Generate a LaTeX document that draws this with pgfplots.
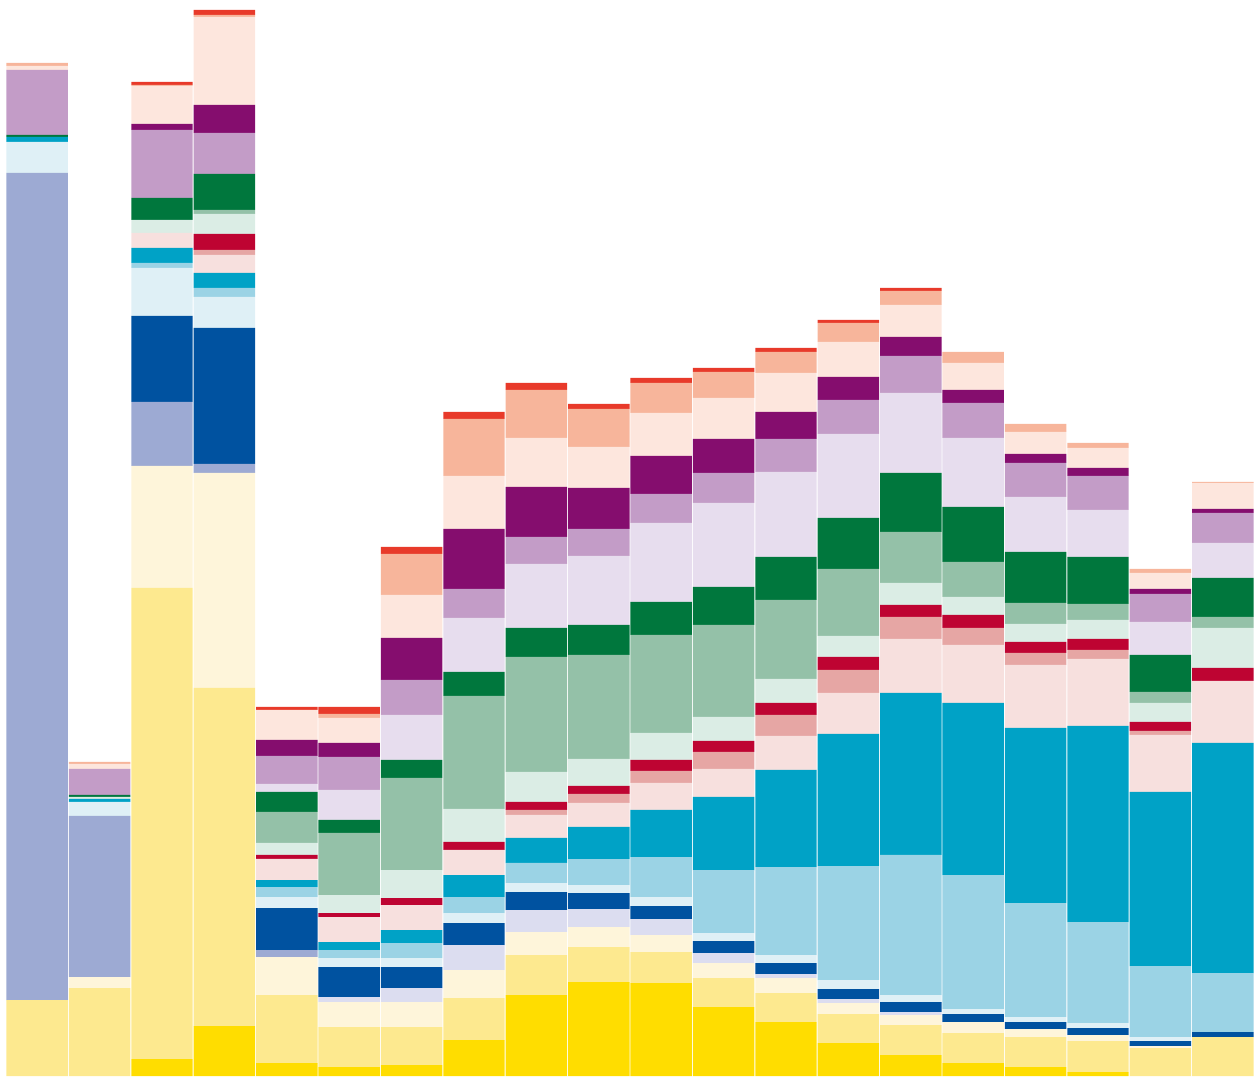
\documentclass[border=0pt]{standalone}
\usepackage{pgfplots}
\pgfplotsset{compat=1.18}
\usepackage{pgfplotstable}

% segment colours, bottom of the stack to top
\definecolor{c1}{HTML}{FFDD00}
\definecolor{c2}{HTML}{FDE98F}
\definecolor{c3}{HTML}{FEF5DA}
\definecolor{c4}{HTML}{9DAAD3}
\definecolor{c5}{HTML}{DCDDF0}
\definecolor{c6}{HTML}{0052A0}
\definecolor{c7}{HTML}{DFF0F6}
\definecolor{c8}{HTML}{9BD3E5}
\definecolor{c9}{HTML}{00A2C6}
\definecolor{c10}{HTML}{F7E0DE}
\definecolor{c11}{HTML}{E6A6A4}
\definecolor{c12}{HTML}{BE0432}
\definecolor{c13}{HTML}{DBEDE5}
\definecolor{c14}{HTML}{94C1A8}
\definecolor{c15}{HTML}{00773D}
\definecolor{c16}{HTML}{E7DDEE}
\definecolor{c17}{HTML}{C39CC7}
\definecolor{c18}{HTML}{850D6E}
\definecolor{c19}{HTML}{FDE6DD}
\definecolor{c20}{HTML}{F7B59B}
\definecolor{c21}{HTML}{E83A2A}

\pgfplotstableread{
x s1 s2 s3 s4 s5 s6 s7 s8 s9 s10 s11 s12 s13 s14 s15 s16 s17 s18 s19 s20 s21
1 0 76 0 827 0 0 31 0 5 0 0 0 0 0 2 0 65 0 4 3 0
2 0 88 11 161 0 0 14 0 3 0 0 0 2 0 2 0 26 0 5 2 0
3 17 471 122 64 0 86 48 5 15 15 0 0 13 0 22 0 68 6 38 1 3
4 50 338 215 9 0 136 31 9 15 18 5 16 20 4 36 0 41 28 88 2 5
5 13 68 38 7 0 42 11 10 7 21 0 4 12 31 20 8 28 16 30 0 3
6 9 40 25 0 5 30 9 8 8 25 0 4 18 62 13 30 33 14 25 4 7
7 11 38 25 0 14 21 9 15 13 25 0 7 28 92 18 45 35 42 43 41 7
8 36 42 28 0 25 22 10 16 22 25 0 8 33 113 24 54 29 60 53 57 7
9 81 40 23 0 22 18 9 20 25 23 5 8 30 115 29 64 27 50 49 48 7
10 94 35 20 0 18 16 8 26 32 24 9 8 27 104 30 69 27 41 41 38 5
11 93 31 17 0 16 13 9 40 47 27 12 11 27 98 33 79 29 38 43 30 5
12 69 29 15 0 10 12 8 63 73 28 17 11 24 92 38 84 30 34 41 26 4
13 54 29 15 0 4 11 8 88 97 34 21 12 24 79 43 85 33 27 39 21 4
14 33 29 11 0 4 10 9 114 132 41 23 13 21 67 51 84 34 23 35 19 3
15 21 30 10 0 3 10 7 140 162 54 22 12 22 51 59 80 37 19 32 14 3
16 13 30 11 0 0 8 5 134 172 58 17 13 18 35 55 69 35 13 27 11 0
17 9 30 8 0 0 7 5 114 175 63 12 11 18 21 51 55 34 9 22 8 0
18 4 31 6 0 0 7 5 101 196 67 9 11 19 16 47 47 34 8 20 5 0
19 0 28 2 0 0 5 4 71 174 57 4 9 19 11 37 33 28 5 16 4 0
20 0 39 0 0 0 5 0 59 230 62 0 13 40 11 39 35 30 4 26 1 0
}\data

\begin{document}
\begin{tikzpicture}
\begin{axis}[
    hide axis,
    scale only axis,
    width=12.55cm, height=10.76cm,
    xmin=0.4038, xmax=20.516,
    ymin=0, ymax=1076,
    ybar stacked,
    bar width=0.985,
]
\pgfplotsinvokeforeach{1,...,21}{
    \addplot[fill=c#1, draw=none] table[x=x, y=s#1] {\data};
}
\end{axis}
\pgfresetboundingbox
\useasboundingbox (current axis.south west) rectangle (current axis.north east);
\end{tikzpicture}
\end{document}
